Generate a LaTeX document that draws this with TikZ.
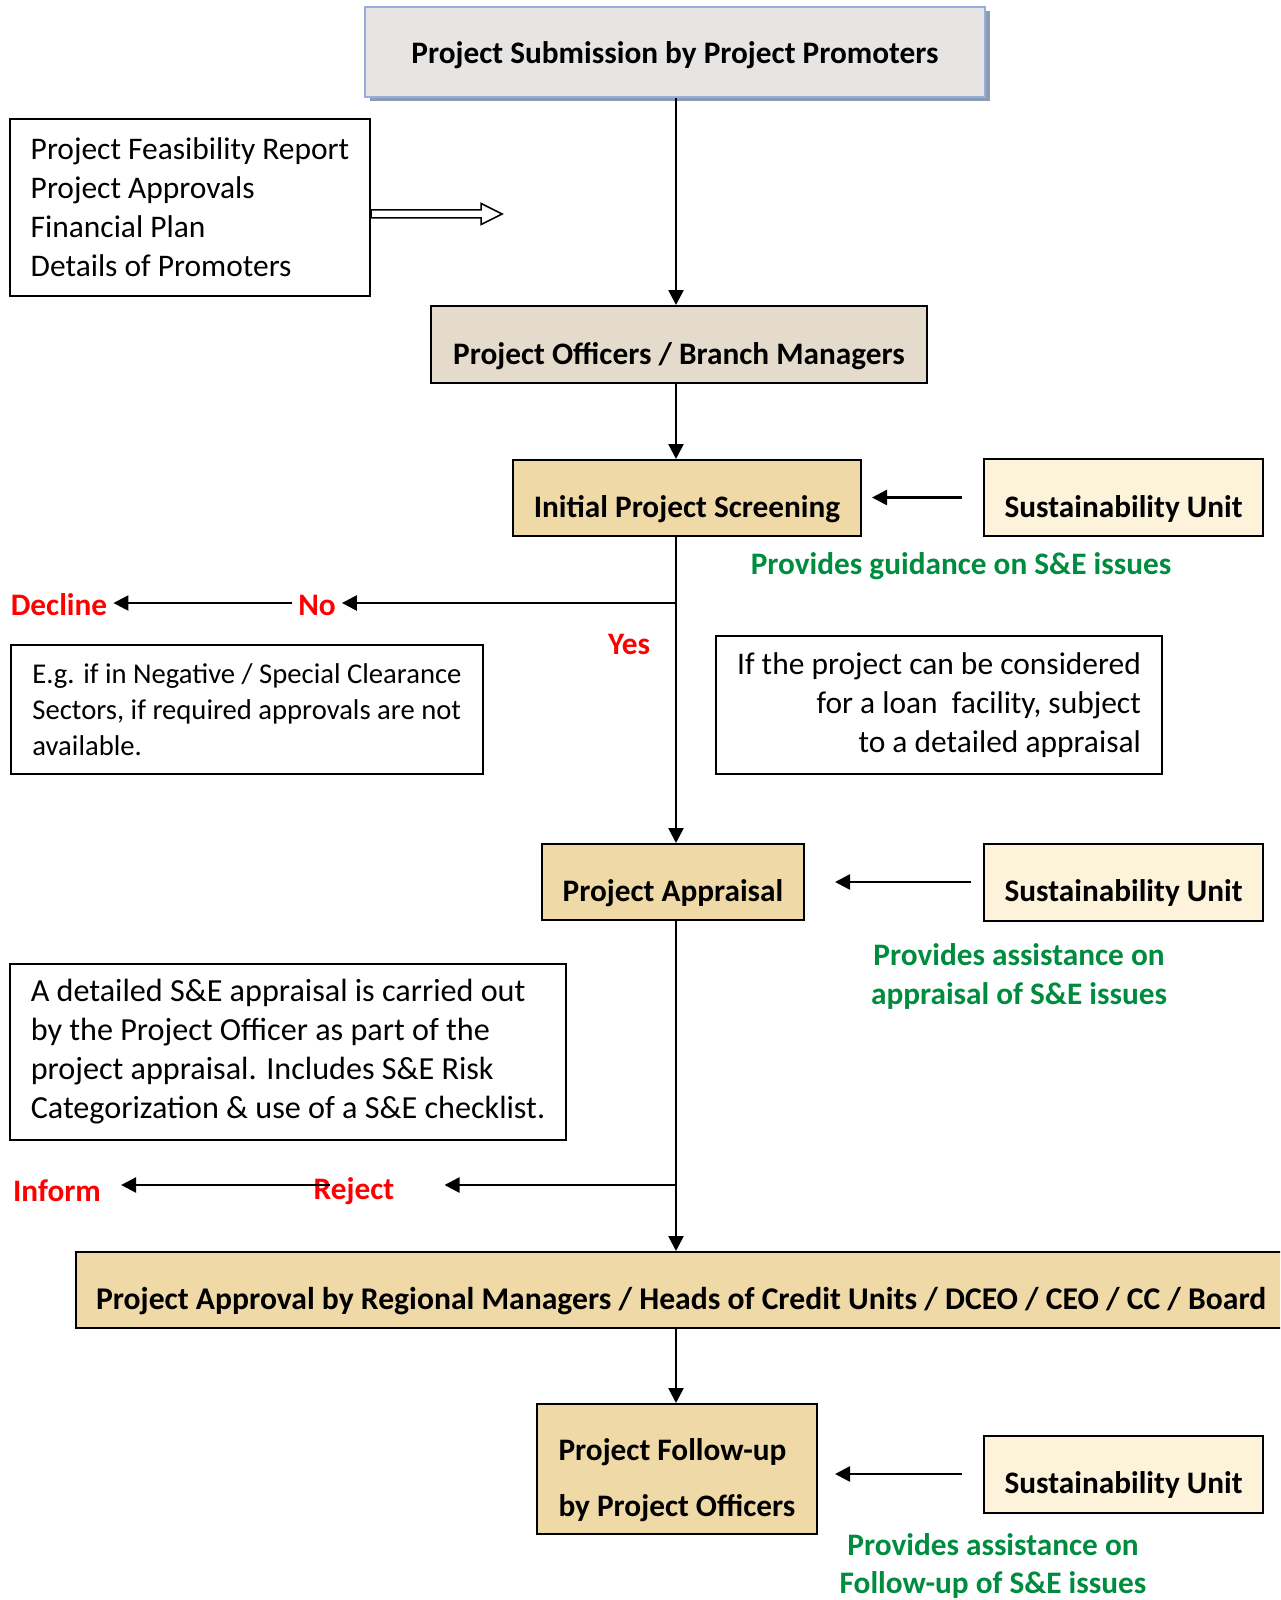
\documentclass[tikz,border=0pt]{standalone}
\usepackage{fontspec}
\setmainfont{Carlito}
\usetikzlibrary{arrows.meta,shadows}
\definecolor{papergrey}{HTML}{E6E5E3}
\definecolor{paperstone}{HTML}{E4DBCC}
\definecolor{papertan}{HTML}{EFD9A6}
\definecolor{papercream}{HTML}{FDF2DA}
\definecolor{edgeblue}{HTML}{95AEDA}
\definecolor{shadeblue}{HTML}{8C9AB2}
\definecolor{guidegreen}{RGB}{0,140,62}
\begin{document}
\begin{tikzpicture}[x=0.2mm, y=-0.2mm,
	every node/.style={font=\fontsize{17.9}{22.2}\selectfont},
	arr/.style={-{Triangle[length=3mm,width=3mm]}, line width=0.5mm},
	flowbox/.style={draw, line width=0.4mm, text height=27pt, text depth=4.4pt, font=\fontsize{17.8}{21.8}\selectfont\bfseries},
	tallbox/.style={draw, line width=0.4mm, align=left, font=\fontsize{17.8}{21.8}\selectfont\bfseries},
	subox/.style={flowbox, fill=papercream, minimum width=279*\pxu, minimum height=77*\pxu},
	note/.style={draw, line width=0.35mm, align=left, inner xsep=21*\pxu},
	redtxt/.style={text=red, font=\fontsize{17.8}{21.8}\selectfont\bfseries},
	greentxt/.style={text=guidegreen, align=center, font=\fontsize{17.8}{21.9}\selectfont\bfseries}
]
\def\pxu{0.2mm}
\useasboundingbox (0,0) rectangle (1280,1600);
\clip (0,0) rectangle (1280,1600);

\node[flowbox, draw=edgeblue, fill=papergrey, minimum width=620*\pxu, minimum height=90*\pxu, text height=18pt,
	drop shadow={shadow xshift=0.9mm, shadow yshift=-0.9mm, fill=shadeblue, opacity=1}] (submit) at (675,52) {Project Submission by Project Promoters};
\node[note, minimum width=358*\pxu, minimum height=177*\pxu] (docs) at (190,207.5) {Project Feasibility Report\\Project Approvals\\Financial Plan\\Details of Promoters};
\draw[line width=0.3mm, fill=white] ([yshift=-6.5*\pxu]docs.east) ++(0,-4) -- ++(110,0) -- ++(0,-6.5) -- ++(21,10.5) -- ++(-21,10.5) -- ++(0,-6.5) -- ++(-110,0) -- cycle;

\node[flowbox, fill=paperstone, minimum width=496*\pxu, minimum height=77*\pxu] (officers) at (679,344.5) {Project Officers / Branch Managers};
\node[flowbox, fill=papertan, minimum width=348*\pxu, minimum height=76*\pxu] (screen) at (687,498) {Initial Project Screening};
\node[subox] (su1) at (1123.5,497.5) {Sustainability Unit};
\node[greentxt] (guide1) at (961,566) {Provides guidance on S\&E issues};

\coordinate (nofork) at (676,603);
\node[redtxt] (no) at (317,605) {No};
\node[redtxt] (decline) at (59,605) {Decline};
\node[redtxt] (yes) at (629,644) {Yes};
\node[note, minimum width=472*\pxu, minimum height=129*\pxu, font=\fontsize{16.3}{20.5}\selectfont] (eg) at (247,709.5) {E.g. if in Negative / Special Clearance\\Sectors, if required approvals are not\\available.};
\node[note, align=right, minimum width=444*\pxu, minimum height=138*\pxu] (cond) at (939,705) {If the project can be considered\\for a loan\ \ facility, subject\\to a detailed appraisal};

\node[flowbox, fill=papertan, minimum width=262*\pxu, minimum height=76*\pxu] (appraisal) at (673,882) {Project Appraisal};
\node[subox] (su2) at (1123.5,882) {Sustainability Unit};
\node[greentxt] (guide2) at (1019,976.5) {Provides assistance on\\appraisal of S\&E issues};
\node[note, minimum width=554*\pxu, minimum height=176*\pxu, font=\fontsize{18.3}{22.2}\selectfont] (detail) at (288,1052) {A detailed S\&E appraisal is carried out\\by the Project Officer as part of the\\project appraisal. Includes S\&E Risk\\Categorization \& use of a S\&E checklist.};

\coordinate (rejfork) at (676,1185);
\node[redtxt] (reject) at (354,1191) {Reject};
\node[redtxt] (inform) at (57,1191) {Inform};

\node[flowbox, fill=papertan, anchor=west, minimum height=76*\pxu, inner xsep=20*\pxu, text width=1300*\pxu, align=flush left, font=\fontsize{18}{21.8}\selectfont\bfseries] (approval) at (75,1290) {Project Approval by Regional Managers / Heads of Credit Units / DCEO / CEO / CC / Board};
\node[tallbox, fill=papertan, minimum width=280*\pxu, minimum height=130*\pxu] (followup) at (677,1469) {\rule{0pt}{1.4em}Project Follow-up\\[10pt]by Project Officers};
\node[subox] (su3) at (1123.5,1474) {Sustainability Unit};
\node[greentxt] (guide3) at (993,1566) {Provides assistance on\\Follow-up of S\&E issues};

\draw[arr] (submit.south -| nofork) -- (officers.north -| nofork);
\draw[arr] (officers.south -| nofork) -- (screen.north -| nofork);
\draw[line width=0.5mm] (screen.south -| nofork) -- (nofork);
\draw[arr] (nofork) -- (appraisal.north -| nofork);
\draw[line width=0.5mm] (appraisal.south -| nofork) -- (rejfork);
\draw[arr] (rejfork) -- (approval.north -| nofork);
\draw[arr] (approval.south -| nofork) -- (followup.north -| nofork);

\draw[arr] (nofork) -- (no.east |- nofork);
\draw[arr] (no.west |- nofork) -- (decline.east |- nofork);
\draw[arr] (rejfork) -- ([xshift=44*\pxu]reject.east |- rejfork);
\draw[arr, shorten >=14*\pxu] ([xshift=22*\pxu]reject.west |- rejfork) -- (inform.east |- rejfork);

\draw[arr, shorten <=21*\pxu, shorten >=10*\pxu] (su1.west) -- (su1.west -| screen.east);
\draw[arr, shorten <=12*\pxu, shorten >=30*\pxu] (su2.west) -- (su2.west -| appraisal.east);
\draw[arr, shorten <=21*\pxu, shorten >=17*\pxu] (su3.west) -- (su3.west -| followup.east);
\end{tikzpicture}
\end{document}
